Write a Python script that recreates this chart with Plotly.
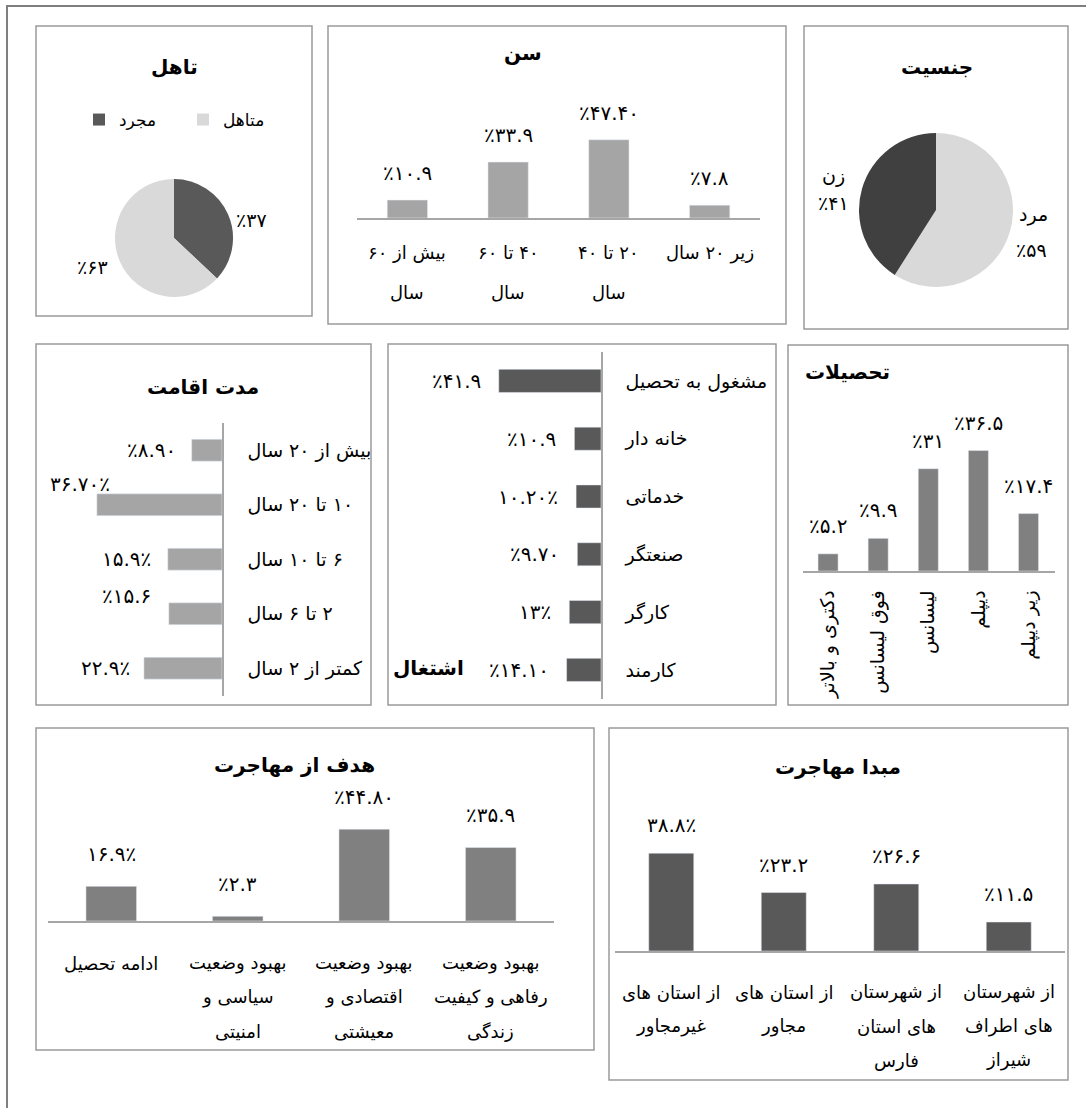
import plotly.graph_objects as go

W, H = 1086, 1108
FONT = "DejaVu Sans"
RLM = "\u200f"

# ---------------- data ----------------
marital_labels = ["مجرد", "متاهل"]
marital_values = [37, 63]
marital_text = ["٪۳۷", "٪۶۳"]

age_cats = ["بیش از ۶۰ سال", "۴۰ تا ۶۰ سال", "۲۰ تا ۴۰ سال", "زیر ۲۰ سال"]
age_lines = [["بیش از ۶۰", "سال"], ["۴۰ تا ۶۰", "سال"], ["۲۰ تا ۴۰", "سال"], ["زیر ۲۰ سال"]]
age_values = [10.9, 33.9, 47.4, 7.8]
age_text = ["٪۱۰.۹", "٪۳۳.۹", "٪۴۷.۴۰", "٪۷.۸"]

gender_labels = ["مرد", "زن"]
gender_values = [59, 41]
gender_text = ["٪۵۹", "٪۴۱"]

res_cats = ["بیش از ۲۰ سال", "۱۰ تا ۲۰ سال", "۶ تا ۱۰ سال", "۲ تا ۶ سال", "کمتر از ۲ سال"]
res_values = [8.9, 36.7, 15.9, 15.6, 22.9]
res_text = ["٪۸.۹۰", "۳۶.۷۰٪", "۱۵.۹٪", "٪۱۵.۶", "۲۲.۹٪"]

job_cats = ["مشغول به تحصیل", "خانه دار", "خدماتی", "صنعتگر", "کارگر", "کارمند"]
job_values = [41.9, 10.9, 10.2, 9.7, 13, 14.1]
job_text = ["٪۴۱.۹", "٪۱۰.۹", "۱۰.۲۰٪", "٪۹.۷۰", "۱۳٪", "٪۱۴.۱۰"]

edu_cats = ["دکتری و بالاتر", "فوق لیسانس", "لیسانس", "دیپلم", "زیر دیپلم"]
edu_values = [5.2, 9.9, 31, 36.5, 17.4]
edu_text = ["٪۵.۲", "٪۹.۹", "٪۳۱", "٪۳۶.۵", "٪۱۷.۴"]

goal_cats = ["ادامه تحصیل", "بهبود وضعیت سیاسی و امنیتی",
             "بهبود وضعیت اقتصادی و معیشتی", "بهبود وضعیت رفاهی و کیفیت زندگی"]
goal_lines = [["ادامه تحصیل"], ["بهبود وضعیت", "سیاسی و", "امنیتی"],
              ["بهبود وضعیت", "اقتصادی و", "معیشتی"], ["بهبود وضعیت", "رفاهی و کیفیت", "زندگی"]]
goal_values = [16.9, 2.3, 44.8, 35.9]
goal_text = ["۱۶.۹٪", "٪۲.۳", "٪۴۴.۸۰", "٪۳۵.۹"]

origin_cats = ["از استان های غیرمجاور", "از استان های مجاور",
               "از شهرستان های استان فارس", "از شهرستان های اطراف شیراز"]
origin_lines = [["از استان های", "غیرمجاور"], ["از استان های", "مجاور"],
                ["از شهرستان", "های استان", "فارس"], ["از شهرستان", "های اطراف", "شیراز"]]
origin_values = [38.8, 23.2, 26.6, 11.5]
origin_text = ["۳۸.۸٪", "٪۲۳.۲", "٪۲۶.۶", "٪۱۱.۵"]

# ---------------- styling ----------------
AX = "#A6A6A6"
BORDER = "#9A9A9A"
LIGHT = "#D9D9D9"
LBL = 20   # data label font size
CAT = 18   # category label font size


def px(x):
    return x / W


def py(y):
    return 1 - y / H


fig = go.Figure()
layout = dict(width=W, height=H, margin=dict(l=0, r=0, t=0, b=0),
              paper_bgcolor="white", plot_bgcolor="rgba(0,0,0,0)",
              bargap=0.6, font=dict(family=FONT, color="black"))
annotations = []
shapes = []


def title(text, x, y, size=20, xanchor="center"):
    annotations.append(dict(x=px(x), y=py(y), xref="paper", yref="paper", text="<b>%s</b>" % text,
                            showarrow=False, xanchor=xanchor, yanchor="middle",
                            font=dict(size=size, family=FONT)))


def ptext(text, x, y, size=19):
    annotations.append(dict(x=px(x), y=py(y), xref="paper", yref="paper", text=text,
                            showarrow=False, xanchor="center", yanchor="middle",
                            font=dict(size=size, family=FONT)))


def vbar(idx, cats, values, texts, color, x0, x1, axis_y, ppu, R, gap,
         lines=None, first=40, step=38, catsize=CAT, tickangle=None):
    xa, ya = "x%d" % idx, "y%d" % idx
    xaxis = dict(domain=[px(x0), px(x1)], anchor=ya, type="category", showline=True,
                 linecolor=AX, linewidth=1.5, showgrid=False, zeroline=False, ticks="",
                 fixedrange=True, showticklabels=False)
    if tickangle is not None:
        xaxis.update(showticklabels=True, tickangle=tickangle, tickfont=dict(size=catsize),
                     tickvals=cats, ticktext=cats, ticklabelstandoff=10)
    layout["xaxis%d" % idx] = xaxis
    layout["yaxis%d" % idx] = dict(domain=[py(axis_y), py(axis_y - ppu * R)], anchor=xa,
                                   range=[0, R], visible=False, fixedrange=True)
    fig.add_trace(go.Bar(x=cats, y=values, xaxis=xa, yaxis=ya, marker_color=color,
                         showlegend=False, hoverinfo="skip"))
    for c, v, t in zip(cats, values, texts):
        annotations.append(dict(x=c, y=v, xref=xa, yref=ya, text=t, showarrow=False,
                                yanchor="middle", yshift=gap, font=dict(size=LBL)))
    if lines:
        for c, ls in zip(cats, lines):
            for i, l in enumerate(ls):
                annotations.append(dict(x=c, y=0, xref=xa, yref=ya, text=RLM + l, showarrow=False,
                                        yanchor="middle", yshift=-(first + i * step),
                                        font=dict(size=catsize)))


def hbar(idx, cats, values, texts, color, axis_x, ppu, R, top, step, shifts, standoff=20):
    xa, ya = "x%d" % idx, "y%d" % idx
    n = len(cats)
    layout["xaxis%d" % idx] = dict(domain=[px(axis_x - ppu * R), px(axis_x)], anchor=ya,
                                   range=[R, 0], visible=False, fixedrange=True)
    layout["yaxis%d" % idx] = dict(domain=[py(top + n * step), py(top)], anchor=xa, type="category",
                                   autorange="reversed", side="right", showline=True,
                                   linecolor=AX, linewidth=1.5, ticks="", showgrid=False,
                                   zeroline=False, tickvals=cats, ticktext=[RLM + c for c in cats],
                                   tickfont=dict(size=19), ticklabelstandoff=standoff,
                                   fixedrange=True)
    fig.add_trace(go.Bar(x=values, y=cats, orientation="h", xaxis=xa, yaxis=ya,
                         marker_color=color, showlegend=False, hoverinfo="skip"))
    for c, v, t, (dx, dy) in zip(cats, values, texts, shifts):
        annotations.append(dict(x=v, y=c, xref=xa, yref=ya, text=t, showarrow=False,
                                xanchor="right", yanchor="middle", xshift=dx, yshift=dy,
                                font=dict(size=LBL)))


# ---------------- panel borders ----------------
panels = [(36, 26, 312, 316), (328, 26, 786, 324), (804, 26, 1068, 329),
          (36, 344, 371, 705), (388, 344, 776, 705), (788, 345, 1068, 705),
          (36, 728, 594, 1050), (609, 728, 1068, 1080)]
for (a, b, c, d) in panels:
    shapes.append(dict(type="rect", xref="paper", yref="paper", x0=px(a), x1=px(c),
                       y0=py(d), y1=py(b), line=dict(color=BORDER, width=1.5)))
shapes.append(dict(type="rect", xref="paper", yref="paper", x0=px(7), x1=1.05,
                   y0=-0.05, y1=py(6), line=dict(color="#7F7F7F", width=2)))

# ---------------- marital status (pie) ----------------
title("تاهل", 174, 67)
fig.add_trace(go.Pie(labels=marital_labels, values=marital_values, sort=False,
                     direction="clockwise", rotation=0, textinfo="none",
                     marker=dict(colors=["#595959", LIGHT], line=dict(width=0)),
                     domain=dict(x=[px(115), px(233)], y=[py(297), py(179)]),
                     showlegend=True, hoverinfo="skip"))
ptext(marital_text[0], 251, 220)
ptext(marital_text[1], 92, 267)

# ---------------- age ----------------
title("سن", 523, 53)
vbar(2, age_cats, age_values, age_text, "#A5A5A5", 357, 760, 218, 1.65, 50, 27,
     lines=age_lines, first=35, step=40)

# ---------------- gender (pie) ----------------
title("جنسیت", 937, 67)
fig.add_trace(go.Pie(labels=gender_labels, values=gender_values, sort=False,
                     direction="clockwise", rotation=0, textinfo="none",
                     marker=dict(colors=[LIGHT, "#404040"], line=dict(width=0)),
                     domain=dict(x=[px(859), px(1013)], y=[py(287), py(133)]),
                     showlegend=False, hoverinfo="skip"))
ptext(gender_labels[1], 833, 175, 19)
ptext(gender_text[1], 833, 203)
ptext(gender_labels[0], 1033, 215, 19)
ptext(gender_text[0], 1031, 250)

# ---------------- residence duration ----------------
title("مدت اقامت", 203, 387)
res_shifts = [(-14, 0), (15, 21), (-15, 0), (-16, 18), (-12, 0)]
hbar(3, res_cats, res_values, res_text, "#A5A5A5", 222, 3.41, 40, 423, 54.5, res_shifts, 20)

# ---------------- occupation ----------------
job_shifts = [(-16, 0)] * len(job_cats)
hbar(4, job_cats, job_values, job_text, "#595959", 601, 2.44, 45, 352, 57.8, job_shifts, 19)
title("اشتغال", 428, 668)

# ---------------- education ----------------
title("تحصیلات", 803, 372, xanchor="left")
vbar(5, edu_cats, edu_values, edu_text, "#808080", 803, 1055, 571, 3.3, 40, 28,
     catsize=19, tickangle=-90)

# ---------------- goal of migration ----------------
title("هدف از مهاجرت", 294, 765)
vbar(6, goal_cats, goal_values, goal_text, "#808080", 48, 554, 921, 2.05, 50, 32,
     lines=goal_lines, first=42, step=34)

# ---------------- origin of migration ----------------
title("مبدا مهاجرت", 838, 767)
vbar(7, origin_cats, origin_values, origin_text, "#595959", 615, 1065, 951, 2.52, 45, 28,
     lines=origin_lines, first=41, step=34)

layout["annotations"] = annotations
layout["shapes"] = shapes
layout["showlegend"] = True
layout["legend"] = dict(orientation="h", x=px(79), y=py(120), xanchor="left", yanchor="middle",
                        font=dict(size=17, family=FONT), bgcolor="rgba(0,0,0,0)",
                        entrywidth=59, itemclick=False, itemdoubleclick=False)
fig.update_layout(**layout)
fig.write_html("out.html", config={"displayModeBar": False},
               post_script="document.body.style.margin='0';document.body.style.padding='0';")
